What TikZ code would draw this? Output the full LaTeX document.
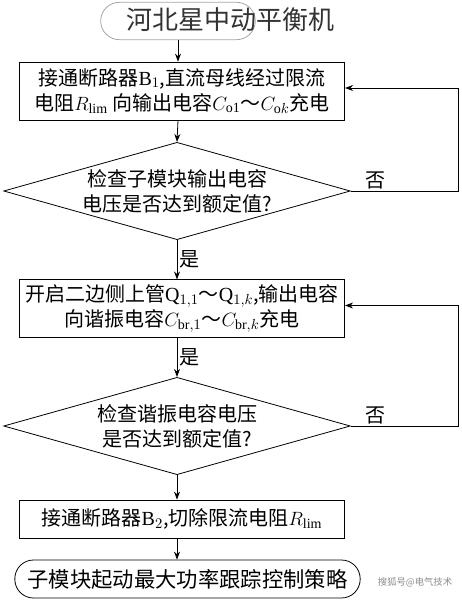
\documentclass[tikz,border=0pt]{standalone}
\usepackage{fontspec}
\usepackage{tikz}
\setmainfont{Liberation Serif}
\newfontfamily\zhfont{Noto Sans CJK SC}
\usetikzlibrary{arrows.meta}
\usetikzlibrary{shapes.geometric}
\usetikzlibrary{positioning}
\tikzset{flow/.style = {draw, line width=0.6pt, -{Stealth[length=6pt,width=4.5pt]}},
         stepbox/.style = {draw, line width=0.6pt, minimum width=244pt, inner sep=0pt,
                           align=center, font=\zhfont\fontsize{15}{18.75}\selectfont},
         terminal/.style = {stepbox, rounded corners=14pt, minimum height=28.5pt},
         check/.style = {diamond, draw, line width=0.6pt, aspect=3.6, inner sep=0pt,
                         minimum width=260pt, minimum height=73pt,
                         align=center, font=\zhfont\fontsize{15}{18.75}\selectfont},
         answer/.style = {font=\zhfont\fontsize{15}{18}\selectfont, inner sep=1.5pt}}
\newcommand{\la}[1]{\textrm{#1}}

\begin{document}
\begin{tikzpicture}[x=0.75pt, y=-0.75pt]
    \useasboundingbox (0, 0) rectangle (461, 600);
    \coordinate (rail) at (458, 0);

    % steps
    \node [terminal, draw=black!35, minimum width=116pt, minimum height=28pt] (start) at (178, 21) {};
    \node [stepbox, minimum height=43.5pt] (charge) at (182, 91)
      {接通断路器\la{B}$_1$,直流母线经过限流\\
       电阻$R_{\mathrm{lim}}$ 向输出电容$C_{\mathrm{o1}}$～$C_{\mathrm{o}k}$充电};
    \node [check] (vout) at (177, 191) {检查子模块输出电容\\电压是否达到额定值?};
    \node [stepbox, minimum height=43pt] (bridge) at (182, 308.5)
      {开启二边侧上管\la{Q}$_{1,1}$～\la{Q}$_{1,k}$,输出电容\\
       向谐振电容$C_{\mathrm{br},1}$～$C_{\mathrm{br},k}$充电};
    \node [check] (vres) at (177, 426) {检查谐振电容电压\\是否达到额定值?};
    \node [stepbox, minimum height=28.5pt] (bypass) at (182, 519)
      {接通断路器\la{B}$_2$,切除限流电阻$R_{\mathrm{lim}}$};
    \node [terminal, minimum width=259pt, font=\zhfont\fontsize{16}{18.75}\selectfont] (mppt) at (187.5, 579)
      {子模块起动最大功率跟踪控制策略};

    % flow
    \draw [flow] (start.south) -- (start.south |- charge.north);
    \draw [flow] (start.south |- charge.south) -- (vout.north);
    \draw [flow] (vout.south) -- node [answer, right] {是} (vout.south |- bridge.north);
    \draw [flow] (vout.south |- bridge.south) -- node [answer, right] {是} (vres.north);
    \draw [flow] (vres.south) -- (vres.south |- bypass.north);
    \draw [flow] (vres.south |- bypass.south) -- (vres.south |- mppt.north);

    % loops back
    \draw [flow] (vout.east) -- node [answer, above, pos=0.23] {否} (vout.east -| rail)
                 |- ([yshift=2.25pt]charge.east);
    \draw [flow] (vres.east) -- node [answer, above, pos=0.23] {否} (vres.east -| rail)
                 |- ([yshift=2.25pt]bridge.east);

    % marks
    \node [font=\zhfont\fontsize{19.5}{22}\selectfont, text=black!80] (mark) at (230, 20) {河北星中动平衡机};
    \node [font=\zhfont\fontsize{7}{8}\selectfont, text=black!45] (source) at (415, 582) {搜狐号@电气技术};
  \end{tikzpicture}
\end{document}
